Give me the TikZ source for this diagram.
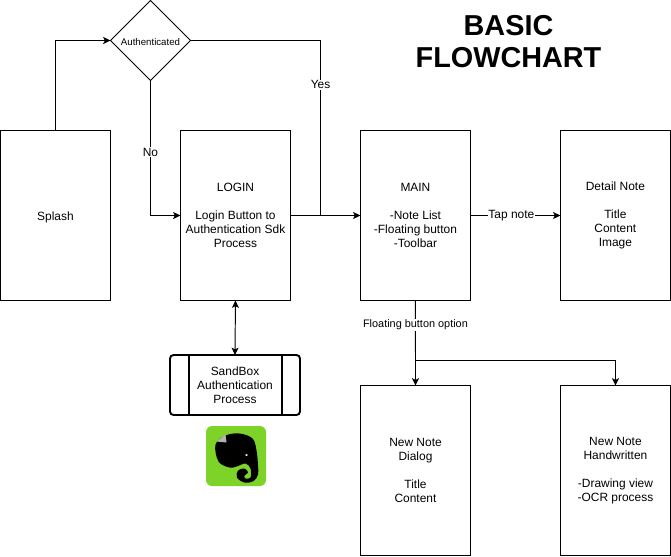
\documentclass[tikz,border=0pt]{standalone}
\usepackage{fontspec}
\setmainfont{Liberation Sans}
\usetikzlibrary{arrows.meta,positioning,shapes.geometric,shapes.misc}

\begin{document}
\begin{tikzpicture}[x=0.02cm,y=-0.02cm,node distance=1.4cm,
                    line width=0.55pt,
                    main node/.style={rectangle,draw,outer sep=0pt,inner sep=0pt,minimum width=2.2cm,minimum height=3.4cm,align=center,font=\fontsize{6.8}{7.95}\selectfont,execute at begin node={\rule{0pt}{6.9pt}}},
                    choice node/.style={diamond,draw,aspect=1,outer sep=0pt,inner sep=0pt,minimum size=1.6cm,align=center,font=\fontsize{5.5}{6}\selectfont,execute at begin node={\rule{0pt}{5.4pt}}},
                    sandbox node/.style={rectangle,draw,rounded corners=2pt,line width=1.1pt,outer sep=0pt,inner sep=0pt,minimum width=2.6cm,minimum height=1.2cm,align=center,font=\fontsize{6.8}{7.95}\selectfont,execute at begin node={\rule{0pt}{6.3pt}}},
                    flow/.style={-{Stealth[length=4.2pt,width=4pt,inset=1pt]}},
                    tag/.style={fill=white,inner sep=0.5pt,font=\fontsize{6.8}{7.95}\selectfont}]
  \useasboundingbox (-0.5,-0.5) rectangle (670.5,555.5);

  %Screens%
  \node[main node] (splash) at (55,215) {Splash};
  \node[main node] (login) [right=1.4cm of splash] {LOGIN\\~\\Login Button to\\Authentication Sdk\\Process};
  \node[main node] (main) [right=1.4cm of login] {MAIN\\~\\-Note List\\-Floating button\\-Toolbar};
  \node[main node] (detail) [right=1.8cm of main] {Detail Note\\~\\Title\\Content\\Image};
  \node[main node] (dialog) at (415,470) {New Note\\Dialog\\~\\Title\\Content};
  \node[main node] (hand) [right=1.8cm of dialog] {New Note\\Handwritten\\~\\-Drawing view\\-OCR process};
  \node[choice node] (auth) at (150,40) {Authenticated};
  \node[sandbox node] (sandbox) at (234.5,384.5) {SandBox\\Authentication\\Process};
  \draw[line width=1.1pt] (188.5,354.5) -- (188.5,414.5) (281.5,354.5) -- (281.5,414.5);

  \node[font=\bfseries\fontsize{16.4}{18.7}\selectfont,align=center] (title) at (508,41) {BASIC\\FLOWCHART};

  %Joints%
  \coordinate (join) at (320,215);
  \coordinate (fork) at (415,360);

  %Connectors%
  \draw[flow] (splash.north) |- (auth.west);
  \draw[flow] (auth.south) |- node[tag,pos=0.266] {No} (login.west);
  \draw (auth.east) -| node[tag,pos=0.626] {Yes} (join);
  \draw[flow] (login.east) -- (main.west);
  \draw[flow] (main.east) -- node[tag,pos=0.455] {Tap note} (detail.west);
  \draw[flow] (main.south) -- node[tag,pos=0.29,font=\fontsize{6.2}{7}\selectfont] {Floating button option} (dialog.north);
  \draw[flow] (fork) -| (hand.north);
  \draw[{Stealth[length=4.2pt,width=4pt,inset=1pt]}-{Stealth[length=4.2pt,width=4pt,inset=1pt]}] (login.south) -- (sandbox.north);

  %Logo%
  \fill[rounded corners=3.5pt,fill={rgb,255:red,126;green,211;blue,40}] (205.5,425.5) rectangle (265.5,485.5);
  \fill[black] plot[smooth cycle,tension=0.6] coordinates {(215,444) (225,435) (239,433) (252,438) (256,450) (257.5,465) (257.5,474) (253,480.5) (244,482) (236.5,477) (237.5,470) (244,468) (247.5,472) (244,475) (245,478) (250,477) (250,468) (245,463) (236,466) (229,467) (218,461)};
  \fill[white] (246,454.5) ellipse (1.5 and 0.9);
  \fill[gray!60] (216,441) -- (225,434) -- (226,442) -- cycle;
\end{tikzpicture}
\end{document}
